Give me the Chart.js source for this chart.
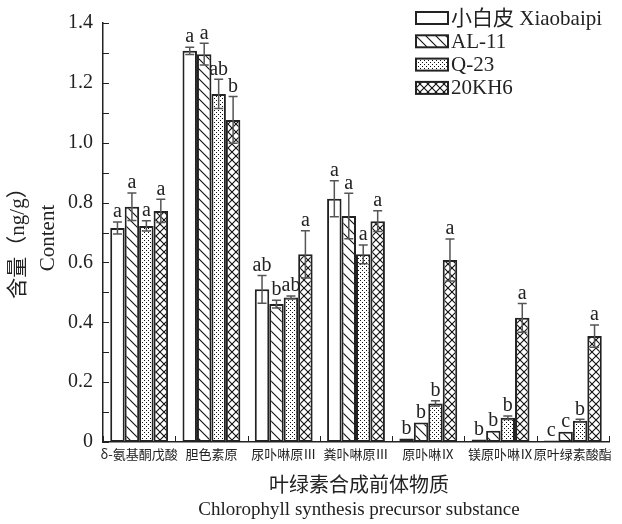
<!DOCTYPE html>
<html>
<head>
<meta charset="utf-8">
<script src="https://cdn.jsdelivr.net/npm/chart.js@4/dist/chart.umd.min.js"></script>
<style>
	body { margin: 0; background: #fff; }
	canvas { display: block; }
</style>
</head>
<body>
<canvas id="chart" width="622" height="524"></canvas>
<script>
const categories = ['δ-氨基酮戊酸', '胆色素原', '尿卟啉原Ⅲ', '粪卟啉原Ⅲ', '原卟啉Ⅸ', '镁原卟啉Ⅸ', '原叶绿素酸酯'];
const seriesNames = ['小白皮 Xiaobaipi', 'AL-11', 'Q-23', '20KH6'];

const xiaobaipi = [0.715, 1.307, 0.510, 0.813, 0.012, 0.008, 0.005];
const al11 = [0.786, 1.296, 0.461, 0.755, 0.065, 0.038, 0.034];
const q23 = [0.722, 1.163, 0.483, 0.627, 0.129, 0.081, 0.071];
const kh6 = [0.772, 1.076, 0.627, 0.738, 0.608, 0.415, 0.354];

const xiaobaipiErr = [0.020, 0.012, 0.046, 0.060, 0, 0, 0];
const al11Err = [0.046, 0.036, 0.013, 0.076, 0, 0, 0];
const q23Err = [0.017, 0.049, 0.005, 0.031, 0.009, 0.006, 0.005];
const kh6Err = [0.039, 0.078, 0.079, 0.035, 0.070, 0.048, 0.037];

const xiaobaipiSig = ['a', 'a', 'ab', 'a', 'b', 'b', 'c'];
const al11Sig = ['a', 'a', 'b', 'a', 'b', 'b', 'c'];
const q23Sig = ['a', 'ab', 'ab', 'a', 'b', 'b', 'b'];
const kh6Sig = ['a', 'b', 'a', 'a', 'a', 'a', 'a'];

const yTicks = [0, 0.2, 0.4, 0.6, 0.8, 1.0, 1.2, 1.4];

const SERIF = '"Liberation Serif", "Times New Roman", "Noto Sans CJK SC", serif';
const CJK = '"Noto Sans CJK SC", "Liberation Serif", sans-serif';
const INK = '#222';

// fill patterns for the four cultivars
function makePattern(kind) {
	const size = kind === 'dots' ? 4 : (kind === 'diag' ? 10 : 8);
	const c = document.createElement('canvas');
	c.width = size; c.height = size;
	const g = c.getContext('2d');
	g.fillStyle = '#fff';
	g.fillRect(0, 0, size, size);
	g.strokeStyle = '#111';
	g.fillStyle = '#111';
	g.lineWidth = 1.1;
	if (kind === 'diag' || kind === 'cross') {
		g.beginPath();
		g.moveTo(-1, -1); g.lineTo(size + 1, size + 1);
		g.moveTo(-1, size - 1); g.lineTo(1, size + 1);
		g.moveTo(size - 1, -1); g.lineTo(size + 1, 1);
		g.stroke();
	}
	if (kind === 'cross') {
		g.beginPath();
		g.moveTo(size + 1, -1); g.lineTo(-1, size + 1);
		g.moveTo(1, -1); g.lineTo(-1, 1);
		g.moveTo(size + 1, size - 1); g.lineTo(size - 1, size + 1);
		g.stroke();
	}
	if (kind === 'dots') {
		g.fillRect(0, 0, 1, 1);
		g.fillRect(2, 2, 1, 1);
	}
	return document.createElement('canvas').getContext('2d').createPattern(c, 'repeat');
}

const fills = ['#fff', makePattern('diag'), makePattern('dots'), makePattern('cross')];
const values = [xiaobaipi, al11, q23, kh6];
const errors = [xiaobaipiErr, al11Err, q23Err, kh6Err];
const letters = [xiaobaipiSig, al11Sig, q23Sig, kh6Sig];

const extras = {
	id: 'extras',
	afterDatasetsDraw(chart) {
		const ctx = chart.ctx;
		const y = chart.scales.y;
		ctx.save();
		chart.data.datasets.forEach((ds, i) => {
			chart.getDatasetMeta(i).data.forEach((bar, j) => {
				const v = values[i][j], e = errors[i][j];
				let top = bar.y;
				if (e > 0) {
					const y1 = y.getPixelForValue(v + e), y2 = y.getPixelForValue(v - e);
					ctx.strokeStyle = '#555';
					ctx.lineWidth = 1.5;
					ctx.beginPath();
					ctx.moveTo(bar.x, y1); ctx.lineTo(bar.x, y2);
					ctx.moveTo(bar.x - 4.5, y1); ctx.lineTo(bar.x + 4.5, y1);
					ctx.moveTo(bar.x - 4.5, y2); ctx.lineTo(bar.x + 4.5, y2);
					ctx.stroke();
					top = y1;
				}
				ctx.fillStyle = INK;
				ctx.font = '20px ' + SERIF;
				ctx.textAlign = 'center';
				ctx.textBaseline = 'bottom';
				ctx.fillText(letters[i][j], bar.x, top);
			});
		});
		ctx.restore();
	},
	afterDraw(chart) {
		const ctx = chart.ctx;
		const a = chart.chartArea;
		const y = chart.scales.y;
		ctx.save();
		ctx.strokeStyle = INK;
		ctx.lineWidth = 1;
		ctx.beginPath();
		for (let k = 0; k <= 14; k++) {
			const py = Math.round(y.getPixelForValue(k / 10)) + 0.5;
			ctx.moveTo(a.left, py); ctx.lineTo(a.left + 6, py);
		}
		const n = categories.length;
		for (let k = 0; k <= n; k++) {
			const px = Math.round(a.left + k * (a.right - a.left) / n) + 0.5;
			ctx.moveTo(px, a.bottom); ctx.lineTo(px, a.bottom - 6);
		}
		ctx.stroke();

		// legend
		ctx.font = '21px ' + SERIF;
		ctx.textAlign = 'left';
		ctx.textBaseline = 'middle';
		seriesNames.forEach((name, i) => {
			const cy = 18 + i * 23.3;
			ctx.fillStyle = fills[i];
			ctx.fillRect(416, cy - 6, 32, 12);
			ctx.lineWidth = 2;
			ctx.strokeStyle = INK;
			ctx.strokeRect(416, cy - 6, 32, 12);
			ctx.fillStyle = INK;
			ctx.fillText(name, 451, cy + 1);
		});

		// axis titles
		const cx = (a.left + a.right) / 2;
		ctx.textAlign = 'center';
		ctx.font = '20px ' + CJK;
		ctx.fillText('叶绿素合成前体物质', cx + 3, 484);
		ctx.font = '19px ' + SERIF;
		ctx.fillText('Chlorophyll synthesis precursor substance', cx + 3, 510);

		ctx.translate(0, 238);
		ctx.rotate(-Math.PI / 2);
		ctx.font = '21px ' + SERIF;
		ctx.fillText('含量（ng/g）', 0, 18);
		ctx.fillText('Content', 0, 48);
		ctx.restore();
	}
};

new Chart(document.getElementById('chart'), {
	type: 'bar',
	data: {
		labels: categories,
		datasets: seriesNames.map((name, i) => ({
			label: name,
			data: values[i],
			backgroundColor: fills[i],
			borderColor: INK,
			borderWidth: 2,
			borderSkipped: false,
			categoryPercentage: 0.8,
			barPercentage: 1.0
		}))
	},
	options: {
		responsive: false,
		animation: false,
		devicePixelRatio: 1,
		layout: { padding: { top: 23, right: 13, left: 0, bottom: 0 } },
		plugins: { legend: { display: false }, tooltip: { enabled: false } },
		scales: {
			x: {
				grid: { display: false, drawTicks: false, tickLength: 0 },
				border: { color: INK, width: 1.5 },
				ticks: { color: INK, font: { family: CJK, size: 13 }, padding: 4, maxRotation: 0, autoSkip: false },
				afterFit: s => { s.height = 82; }
			},
			y: {
				min: 0,
				max: 1.4,
				afterBuildTicks: s => { s.ticks = yTicks.map(v => ({ value: v })); },
				grid: { display: false, drawTicks: false, tickLength: 0 },
				border: { color: INK, width: 1.5 },
				ticks: {
					color: INK,
					font: { family: SERIF, size: 20 },
					padding: 10,
					callback: v => v === 0 ? '0' : v.toFixed(1)
				},
				afterFit: s => { s.width = 103; }
			}
		}
	},
	plugins: [extras]
});
</script>
</body>
</html>
